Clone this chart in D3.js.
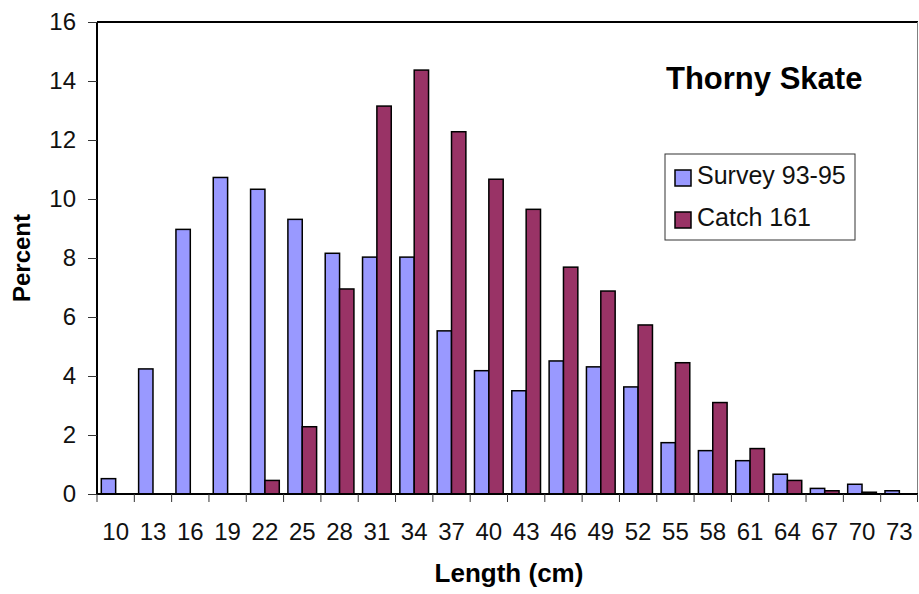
<!DOCTYPE html>
<html>
<head>
<meta charset="utf-8">
<script src="https://cdn.jsdelivr.net/npm/d3@7"></script>
<style>
  body { margin: 0; background: #fff; }
  text { font-family: Arial, "Liberation Sans", sans-serif; }
</style>
</head>
<body>
<div class="container"></div>
<script>
// Data
const lengths = [10, 13, 16, 19, 22, 25, 28, 31, 34, 37, 40, 43, 46, 49, 52, 55, 58, 61, 64, 67, 70, 73]
const survey = [0.52, 4.24, 8.97, 10.73, 10.33, 9.31, 8.16, 8.03, 8.03, 5.53, 4.18, 3.5, 4.51, 4.31, 3.63, 1.74, 1.47, 1.13, 0.67, 0.19, 0.33, 0.11]
const catch161 = [0, 0, 0, 0, 0.46, 2.28, 6.95, 13.15, 14.37, 12.28, 10.67, 9.65, 7.69, 6.88, 5.73, 4.45, 3.1, 1.54, 0.46, 0.11, 0.06, 0]
const seriesNames = ["Survey 93-95", "Catch 161"]
const seriesColors = ["#9999ff", "#993366"]
const yTicks = [0, 2, 4, 6, 8, 10, 12, 14, 16]

const outerWidth = 919
const outerHeight = 594
const margin = {top: 22, right: 1, bottom: 100, left: 97}
const width = outerWidth - margin.left - margin.right
const height = outerHeight - margin.top - margin.bottom

const svg = d3.select(".container")
    .append("svg")
    .attr("width", outerWidth)
    .attr("height", outerHeight)
    .append("g")
    .attr("transform", `translate(${margin.left}, ${margin.top})`)

// Scales
const xScale = d3.scaleBand()
    .domain(lengths)
    .range([0, width])
    .paddingInner(0.6 / 2.6)
    .paddingOuter(0.3 / 2.6)

const subScale = d3.scaleBand()
    .domain([0, 1])
    .range([0, xScale.bandwidth()])

const yScale = d3.scaleLinear()
    .domain([0, 16])
    .range([height, 0])

// Plot frame (top and right)
svg.append("line")
    .attr("x1", 0).attr("x2", width)
    .attr("y1", 0).attr("y2", 0)
    .attr("stroke", "black")
    .attr("stroke-width", 2)

svg.append("line")
    .attr("x1", width - 0.5).attr("x2", width - 0.5)
    .attr("y1", 0).attr("y2", height)
    .attr("stroke", "#808080")
    .attr("stroke-width", 1)

// Bars
const rows = lengths.map((l, i) => ({length: l, values: [survey[i], catch161[i]]}))

const groups = svg.selectAll(".group")
    .data(rows)
    .enter()
    .append("g")
    .attr("transform", d => `translate(${xScale(d.length)}, 0)`)

groups.selectAll("rect")
    .data(d => d.values.map((v, k) => ({k, v})).filter(e => e.v > 0))
    .enter()
    .append("rect")
    .attr("x", d => subScale(d.k))
    .attr("y", d => yScale(d.v))
    .attr("width", subScale.bandwidth())
    .attr("height", d => height - yScale(d.v))
    .attr("fill", d => seriesColors[d.k])
    .attr("stroke", "black")
    .attr("stroke-width", 1.5)

// Axes
const yAxis = d3.axisLeft(yScale)
    .tickValues(yTicks)
    .tickSize(9)
    .tickPadding(12)

const yG = svg.append("g")
    .call(yAxis)

yG.select(".domain")
    .attr("stroke", "black")
    .attr("stroke-width", 2)
    .attr("d", `M0,0V${height}`)

yG.selectAll(".tick line").attr("stroke", "#333")
yG.selectAll(".tick text")
    .attr("font-size", 24)
    .attr("fill", "#111")

const xStep = xScale.step()
const xG = svg.append("g")
    .attr("transform", `translate(0, ${height})`)

xG.append("line")
    .attr("x1", 0).attr("x2", width)
    .attr("stroke", "black")
    .attr("stroke-width", 2)

// category dividers below the axis
xG.selectAll(".xtick")
    .data(d3.range(lengths.length + 1))
    .enter()
    .append("line")
    .attr("x1", i => Math.min(i * xStep, width - 0.5))
    .attr("x2", i => Math.min(i * xStep, width - 0.5))
    .attr("y1", 0)
    .attr("y2", 8)
    .attr("stroke", "#333")

xG.selectAll(".xlabel")
    .data(lengths)
    .enter()
    .append("text")
    .text(d => d)
    .attr("x", d => xScale(d) + xScale.bandwidth() / 2)
    .attr("y", 46)
    .attr("text-anchor", "middle")
    .attr("font-size", 24)
    .attr("fill", "#111")

// Axis titles
svg.append("text")
    .text("Length (cm)")
    .attr("x", 412)
    .attr("y", 560)
    .attr("text-anchor", "middle")
    .attr("font-size", 26)
    .attr("font-weight", "bold")

svg.append("text")
    .text("Percent")
    .attr("transform", `translate(-67, 236) rotate(-90)`)
    .attr("text-anchor", "middle")
    .attr("font-size", 24)
    .attr("font-weight", "bold")

// Title
svg.append("text")
    .text("Thorny Skate")
    .attr("x", 569)
    .attr("y", 67)
    .attr("font-size", 31)
    .attr("font-weight", "bold")

// Legend
const legend = svg.append("g")
    .attr("transform", "translate(568, 132)")

legend.append("rect")
    .attr("width", 190)
    .attr("height", 86)
    .attr("fill", "white")
    .attr("stroke", "#333")
    .attr("stroke-width", 1)

legend.selectAll(".item")
    .data(seriesNames)
    .enter()
    .append("g")
    .attr("transform", (d, i) => `translate(10, ${16 + i * 42})`)
    .call(g => {
        g.append("rect")
            .attr("width", 16)
            .attr("height", 16)
            .attr("fill", (d, i) => seriesColors[i])
            .attr("stroke", "black")
            .attr("stroke-width", 1.5)
        g.append("text")
            .text(d => d)
            .attr("x", 22)
            .attr("y", 14)
            .attr("font-size", 25)
            .attr("fill", "#111")
    })
</script>
</body>
</html>
